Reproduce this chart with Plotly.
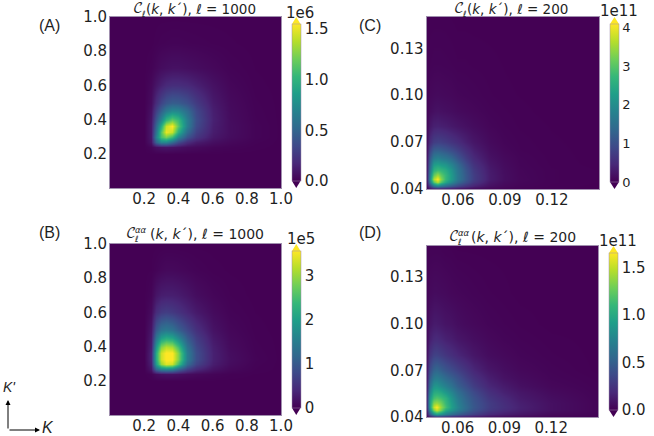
import plotly.graph_objects as go

W, H = 654, 436

K_WIDE = [0, 0.2, 0.24, 0.27, 0.30, 0.33, 0.36, 0.40, 0.45, 0.50, 0.60, 0.70, 0.85, 1.0]
K_NARROW = [0.04, 0.042, 0.0445, 0.0467, 0.049, 0.052, 0.056, 0.06, 0.065, 0.07, 0.08, 0.09, 0.10, 0.12, 0.15]

Z_A = [
    [0]*14,
    [0]*14,
    [0,0,.02,.06,.08,.09,.08,.07,.05,.04,.02,.012,.004,0],
    [0,0,.08,.50,.72,.72,.55,.36,.2,.12,.06,.03,.008,0],
    [0,0,.10,.68,1.08,1.22,1.05,.70,.40,.24,.10,.05,.015,0],
    [0,0,.10,.60,1.12,1.50,1.42,.98,.54,.30,.12,.055,.015,0],
    [0,0,.10,.52,.95,1.42,1.55,1.15,.66,.35,.13,.055,.015,0],
    [0,0,.09,.42,.70,1.02,1.18,1.05,.66,.37,.14,.05,.012,0],
    [0,0,.07,.30,.48,.64,.74,.72,.55,.34,.13,.045,.01,0],
    [0,0,.05,.20,.32,.41,.46,.45,.38,.27,.11,.04,.008,0],
    [0,0,.03,.09,.14,.18,.2,.2,.18,.14,.07,.025,.004,0],
    [0,0,.01,.03,.05,.06,.07,.07,.06,.05,.03,.012,.002,0],
    [0,0,0,.005,.01,.012,.015,.015,.012,.01,.006,.003,0,0],
    [0]*14,
]
Z_B = [
    [0]*14,
    [0]*14,
    [0,0,.02,.1,.15,.17,.17,.15,.11,.08,.04,.015,.004,0],
    [0,0,.2,1.2,1.6,1.7,1.6,1.2,.7,.42,.18,.07,.015,0],
    [0,0,.3,2.0,3.0,3.4,3.3,2.5,1.25,.72,.28,.11,.02,0],
    [0,0,.35,2.2,3.3,3.6,3.6,2.9,1.5,.85,.32,.13,.03,0],
    [0,0,.35,2.2,3.3,3.6,3.6,2.9,1.5,.85,.32,.12,.025,0],
    [0,0,.3,1.9,2.9,3.2,3.1,2.5,1.35,.78,.3,.1,.02,0],
    [0,0,.25,1.4,2.0,2.2,2.1,1.7,1.05,.65,.24,.08,.015,0],
    [0,0,.2,1.0,1.35,1.45,1.35,1.1,.78,.5,.18,.06,.01,0],
    [0,0,.1,.45,.6,.65,.6,.52,.38,.25,.1,.03,.005,0],
    [0,0,.04,.2,.28,.3,.3,.27,.2,.12,.05,.015,0,0],
    [0,0,.005,.03,.06,.08,.08,.07,.05,.03,.01,.003,0,0],
    [0]*14,
]
Z_C = [
    [.03,.1,.15,.18,.18,.16,.14,.12,.1,.07,.04,.02,.01,.005,0],
    [.1,.7,1.5,1.8,1.6,1.35,1.1,.85,.6,.4,.17,.08,.04,.015,0],
    [.15,1.5,3.0,3.6,3.0,2.4,1.9,1.4,1.0,.65,.26,.12,.06,.02,.005],
    [.18,1.8,3.6,4.1,3.4,2.7,2.2,1.65,1.15,.75,.32,.15,.07,.02,.005],
    [.18,1.7,3.1,3.5,3.1,2.7,2.2,1.65,1.15,.75,.32,.15,.065,.02,.005],
    [.17,1.5,2.6,2.8,2.7,2.5,2.1,1.6,1.1,.7,.3,.14,.06,.02,.005],
    [.15,1.3,2.2,2.3,2.2,2.1,1.8,1.4,.95,.6,.25,.12,.05,.015,0],
    [.13,1.1,1.7,1.8,1.7,1.6,1.4,1.1,.75,.48,.2,.1,.045,.012,0],
    [.1,.8,1.2,1.25,1.2,1.1,.95,.78,.55,.36,.15,.07,.03,.01,0],
    [.08,.5,.75,.8,.78,.72,.62,.52,.37,.25,.11,.05,.025,.008,0],
    [.05,.25,.36,.38,.36,.33,.28,.23,.18,.13,.06,.03,.015,.005,0],
    [.03,.13,.18,.2,.18,.16,.14,.11,.09,.07,.035,.02,.01,0,0],
    [.02,.08,.1,.11,.1,.09,.08,.06,.05,.04,.02,.01,.005,0,0],
    [.01,.03,.04,.04,.04,.035,.03,.02,.02,.015,.01,.005,0,0,0],
    [0,.01,.01,.01,.01,.01,.005,0,0,0,0,0,0,0,0],
]
Z_D = [
    [.03,.08,.14,.18,.18,.16,.14,.12,.1,.08,.05,.03,.02,.008,0],
    [.08,.45,.8,.95,.85,.72,.6,.5,.4,.32,.2,.14,.1,.04,.01],
    [.12,.75,1.3,1.5,1.3,1.0,.85,.7,.55,.42,.28,.2,.14,.07,.015],
    [.14,.9,1.5,1.65,1.4,1.15,.92,.75,.58,.45,.3,.22,.15,.07,.015],
    [.14,.9,1.35,1.4,1.3,1.1,.9,.72,.56,.44,.3,.21,.14,.07,.015],
    [.14,.85,1.15,1.2,1.15,1.05,.85,.68,.53,.42,.27,.19,.12,.06,.012],
    [.12,.72,1.0,1.02,.98,.88,.75,.6,.48,.37,.23,.15,.1,.045,.01],
    [.1,.6,.85,.87,.8,.72,.62,.5,.4,.3,.18,.12,.07,.03,.008],
    [.08,.48,.67,.7,.65,.57,.5,.42,.32,.24,.14,.08,.05,.02,.005],
    [.07,.38,.52,.55,.5,.44,.38,.32,.25,.18,.1,.06,.035,.015,0],
    [.05,.24,.32,.33,.3,.26,.22,.18,.14,.1,.055,.035,.02,.008,0],
    [.03,.14,.19,.2,.18,.15,.13,.1,.08,.06,.035,.02,.012,.004,0],
    [.02,.09,.12,.12,.11,.09,.08,.06,.045,.035,.02,.012,.006,0,0],
    [.01,.04,.05,.05,.045,.04,.03,.025,.02,.015,.008,.004,0,0,0],
    [0,.01,.01,.01,.01,.005,.005,0,0,0,0,0,0,0,0],
]

WIDE_TICKS = [0.2, 0.4, 0.6, 0.8, 1.0]
NARROW_X_TICKS = [0.06, 0.09, 0.12]
NARROW_Y_TICKS = [0.04, 0.07, 0.10, 0.13]

PANELS = [
    dict(k=K_WIDE, z=Z_A, box=(110, 281, 17, 188), rng=(0, 1), xt=WIDE_TICKS, yt=WIDE_TICKS, fmt=".1f",
         cb=(292, 300.5, 17, 188), zmax=1.55, cbt=[0, .5, 1, 1.5], cbf=".1f", cbs=15,
         mult="1e6", mult_at=(300, 13), label="(A)", label_at=(49, 26), left=132, ty=9, gap=13, tsize=13.5, sup="", suffix="ℓ = 1000"),
    dict(k=K_NARROW, z=Z_C, box=(426.5, 599, 17, 189), rng=(.04, .15), xt=NARROW_X_TICKS, yt=NARROW_Y_TICKS, fmt=".2f",
         cb=(610, 619, 17, 189), zmax=4.1, cbt=[0, 1, 2, 3, 4], cbf="d", cbs=13,
         mult="1e11", mult_at=(619, 11), label="(C)", label_at=(370, 25), left=453, ty=9, gap=13, tsize=13.5, sup="", suffix="ℓ = 200"),
    dict(k=K_WIDE, z=Z_B, box=(110, 281, 244, 415), rng=(0, 1), xt=WIDE_TICKS, yt=WIDE_TICKS, fmt=".1f",
         cb=(292, 300.5, 244, 415), zmax=3.57, cbt=[0, 1, 2, 3], cbf="d", cbs=15,
         mult="1e5", mult_at=(301, 239), label="(B)", label_at=(49, 232), left=125, ty=234, gap=24, tsize=14, sup="αα", suffix="ℓ = 1000"),
    dict(k=K_NARROW, z=Z_D, box=(426.5, 598, 246, 417), rng=(.04, .15), xt=NARROW_X_TICKS, yt=NARROW_Y_TICKS, fmt=".2f",
         cb=(609, 618, 246, 417), zmax=1.65, cbt=[0, .5, 1, 1.5], cbf=".1f", cbs=15,
         mult="1e11", mult_at=(618, 241), label="(D)", label_at=(370, 232), left=448, ty=237, gap=22, tsize=14, sup="αα", suffix="ℓ = 200"),
]

DARK = "#1f1f1f"
EDGE = "#a08fae"
TEXT_FONT = "DejaVu Sans"
LABEL_FONT = "Liberation Sans"


def px(x):
    return x / W


def py(y):
    return 1 - y / H


fig = go.Figure()
layout = dict(width=W, height=H, margin=dict(l=0, r=0, t=0, b=0, autoexpand=False),
              paper_bgcolor="white", plot_bgcolor="white", showlegend=False,
              font=dict(family=TEXT_FONT, size=15, color=DARK))
annotations, shapes = [], []


def text(s, x, y, size=15, family=TEXT_FONT, color=DARK, anchor="center"):
    annotations.append(dict(text=s, x=px(x), y=py(y), xref="paper", yref="paper", showarrow=False,
                            xanchor=anchor, yanchor="middle", align="center", borderpad=0,
                            font=dict(size=size, family=family, color=color)))


for i, p in enumerate(PANELS):
    n = "" if i == 0 else str(i + 1)
    x0, x1, y0, y1 = p["box"]
    cx0, cx1, cy0, cy1 = p["cb"]
    tip = 7
    fig.add_trace(go.Heatmap(
        x=p["k"], y=p["k"], z=p["z"], xaxis="x" + n, yaxis="y" + n,
        colorscale="Viridis", zmin=0, zmax=p["zmax"], zsmooth="best",
        colorbar=dict(x=px(cx0), xanchor="left", xref="paper", thickness=cx1 - cx0, thicknessmode="pixels",
                      y=py(cy1 - tip), yanchor="bottom", yref="paper", len=(cy1 - cy0 - 2 * tip) / H, lenmode="fraction",
                      ypad=0, xpad=0, tickmode="array", tickvals=p["cbt"], tickformat=p["cbf"],
                      ticks="", ticklen=0, outlinewidth=0.5, outlinecolor=EDGE,
                      tickfont=dict(size=p["cbs"], color=DARK, family=TEXT_FONT)),
    ))
    axis = dict(range=list(p["rng"]), ticks="", showgrid=False, zeroline=False, showline=True, mirror=True,
                linecolor=EDGE, linewidth=1, tickformat=p["fmt"], tickmode="array",
                tickfont=dict(size=15, color=DARK, family=TEXT_FONT))
    layout["xaxis" + n] = dict(axis, domain=[px(x0), px(x1)], anchor="y" + n, tickvals=p["xt"], ticklabelstandoff=-3)
    layout["yaxis" + n] = dict(axis, domain=[py(y1), py(y0)], anchor="x" + n, tickvals=p["yt"], ticklabelstandoff=-1)

    # colorbar extension triangles
    mid = (cx0 + cx1) / 2
    shapes.append(dict(type="path", xref="paper", yref="paper", fillcolor="#fde725", line=dict(width=0),
                       path=f"M {px(cx0)} {py(cy0 + tip)} L {px(mid)} {py(cy0)} L {px(cx1)} {py(cy0 + tip)} Z"))
    shapes.append(dict(type="path", xref="paper", yref="paper", fillcolor="#440154", line=dict(width=0),
                       path=f"M {px(cx0)} {py(cy1 - tip)} L {px(mid)} {py(cy1)} L {px(cx1)} {py(cy1 - tip)} Z"))

    text(p["mult"], *p["mult_at"], size=15)
    text(p["label"], *p["label_at"], size=16, family=LABEL_FONT)

    # title: script C with stacked sub- and superscript, then the rest
    left, ty = p["left"], p["ty"]
    text("𝒞", left, ty, size=14, family="DejaVu Math TeX Gyre, DejaVu Serif", anchor="left")
    text("ℓ", left + 8, ty + 5, size=8.5, anchor="left")
    if p["sup"]:
        text("<i>αα</i>", left + 9, ty - 4.5, size=8.5, anchor="left")
    text("(<i>k</i>, <i>k</i>´), " + "<i>ℓ</i>" + p["suffix"][1:], left + p["gap"], ty, size=p["tsize"], anchor="left")

text("<i>K'</i>", 9, 387, size=14, family=LABEL_FONT)
text("<i>K</i>", 48, 427, size=16, family=LABEL_FONT)
for hx, hy, ax, ay in [(8, 400, 0, 30), (40, 430, -32, 0)]:
    annotations.append(dict(x=px(hx), y=py(hy), xref="paper", yref="paper", ax=ax, ay=ay, axref="pixel", ayref="pixel",
                            text="", showarrow=True, arrowhead=2, arrowsize=1, arrowwidth=1, arrowcolor="black",
                            standoff=0))

layout["annotations"] = annotations
layout["shapes"] = shapes
fig.update_layout(**layout)
fig.write_html("out.html", config={"displayModeBar": False},
               post_script="document.body.style.margin='0';document.documentElement.style.overflow='hidden';")
